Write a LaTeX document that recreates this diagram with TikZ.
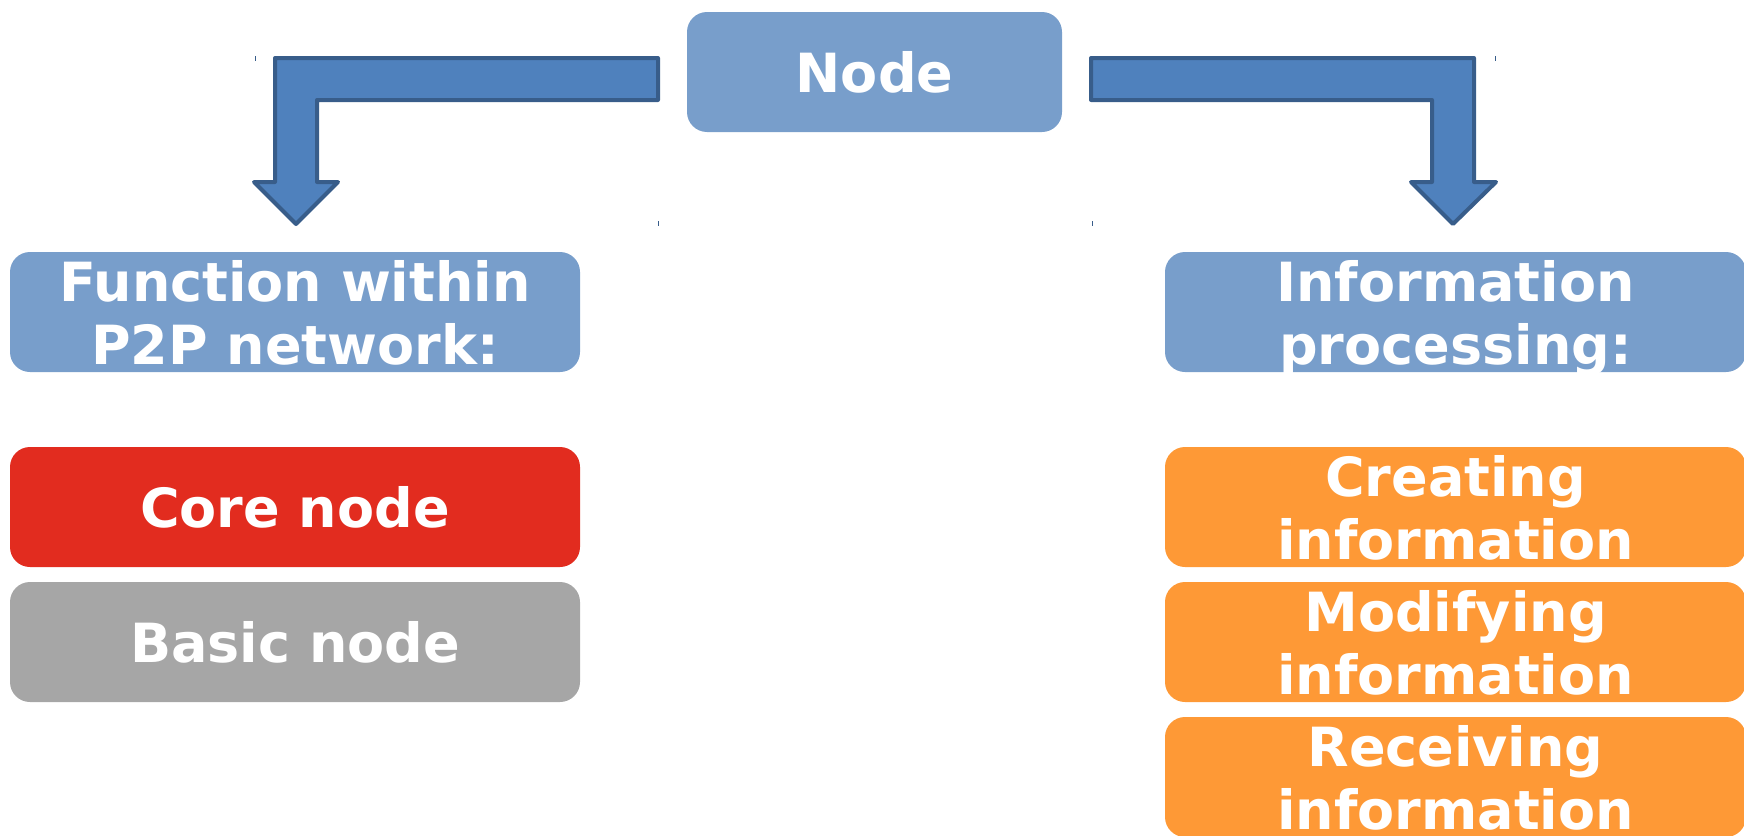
\documentclass[tikz,border=0pt]{standalone}
\usepackage{fontspec}
\setmainfont{DejaVu Sans}
\definecolor{boxblue}{RGB}{120,158,203}
\definecolor{boxred}{RGB}{226,44,31}
\definecolor{boxgray}{RGB}{166,166,166}
\definecolor{boxorange}{RGB}{254,153,54}
\definecolor{arrowfill}{RGB}{79,129,189}
\definecolor{arrowline}{RGB}{56,93,138}
\tikzset{
  box/.style={rounded corners=20pt, inner sep=0pt, minimum height=120pt,
    text=white, font=\bfseries\fontsize{54}{63}\selectfont, align=center, text depth=0pt},
  bluebox/.style={box, fill=boxblue},
  redbox/.style={box, fill=boxred},
  graybox/.style={box, fill=boxgray},
  orangebox/.style={box, fill=boxorange},
  bentarrow/.style={fill=arrowfill, draw=arrowline, line width=4pt, line join=round},
  tick/.style={draw=arrowline, line width=1pt}
}
\begin{document}
\begin{tikzpicture}[x=1pt,y=-1pt]
\useasboundingbox (0,0) rectangle (1744,835);
\clip (0,0) rectangle (1744,835);

\node[bluebox, minimum width=375pt] (node) at (874.5,72) {Node};

\node[bluebox, minimum width=570pt] (func) at (295,312) {Function within\\P2P network:};
\node[redbox, minimum width=570pt] (core) at (295,507) {Core node};
\node[graybox, minimum width=570pt] (basic) at (295,642) {Basic node};

\node[bluebox, minimum width=581pt] (info) at (1455.5,312) {Information\\processing:};
\node[orangebox, minimum width=581pt] (creating) at (1455.5,507) {Creating\\information};
\node[orangebox, minimum width=581pt] (modifying) at (1455.5,642) {Modifying\\information};
\node[orangebox, minimum width=581pt] (receiving) at (1455.5,777) {Receiving\\information};

% left bent arrow: Node -> Function within P2P network
\draw[bentarrow] (658,58) -- (275,58) -- (275,182) -- (254,182) -- (296,224)
  -- (338,182) -- (317,182) -- (317,100) -- (658,100) -- cycle;
% right bent arrow: Node -> Information processing
\draw[bentarrow] (1091,58) -- (1474,58) -- (1474,182) -- (1496,182) -- (1453,224)
  -- (1411,182) -- (1432,182) -- (1432,100) -- (1091,100) -- cycle;

% small ticks at arrow bounding corners
\draw[tick] (255,56) -- (255,61);
\draw[tick] (658,221) -- (658,226);
\draw[tick] (1495,56) -- (1495,61);
\draw[tick] (1092,221) -- (1092,226);
\end{tikzpicture}
\end{document}
